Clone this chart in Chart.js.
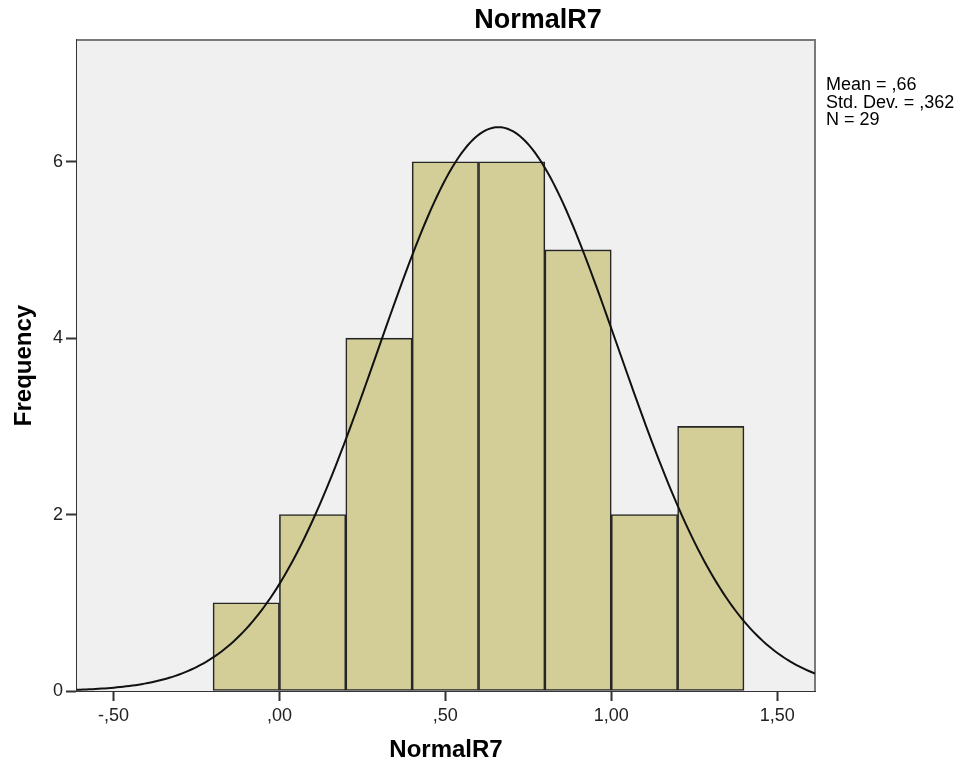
<!DOCTYPE html>
<html>
<head>
<meta charset="utf-8">
<title>NormalR7</title>
<script src="https://cdn.jsdelivr.net/npm/chart.js@4.4.1/dist/chart.umd.min.js"></script>
<style>
  html, body { margin: 0; padding: 0; background: #fff; }
  #wrap { width: 968px; height: 767px; }
</style>
</head>
<body>
<div id="wrap"><canvas id="hist" width="968" height="767"></canvas></div>
<script>
// histogram bins (width .2) and counts
const binCenters = [-0.1, 0.1, 0.3, 0.5, 0.7, 0.9, 1.1, 1.3];
const frequencies = [1, 2, 4, 6, 6, 5, 2, 3];
const binWidth = 0.2;

// summary stats shown next to the plot
const statMean = 0.66;
const statStdDev = 0.362;
const statN = 29;
const statLines = ['Mean = ,66', 'Std. Dev. = ,362', 'N = 29'];

// axes
const xRange = [-0.61, 1.614];
const xTickValues = [-0.5, 0, 0.5, 1, 1.5];
const xTickLabels = ['-,50', ',00', ',50', '1,00', '1,50'];
const yMax = 7.38;
const yTickValues = [0, 2, 4, 6];
const yTickLabels = ['0', '2', '4', '6'];

const FONT = '"Liberation Sans", Arial, sans-serif';

// normal curve scaled to counts: N * binWidth * pdf(x)
const curvePoints = [];
const steps = 240;
for (let i = 0; i <= steps; i++) {
  const x = xRange[0] + (xRange[1] - xRange[0]) * i / steps;
  const z = (x - statMean) / statStdDev;
  const y = statN * binWidth * Math.exp(-0.5 * z * z) / (statStdDev * Math.sqrt(2 * Math.PI));
  curvePoints.push({ x: x, y: y });
}

const plotFrame = {
  id: 'plotFrame',
  beforeDatasetsDraw(chart) {
    const { ctx, chartArea: a } = chart;
    ctx.save();
    ctx.fillStyle = '#f0f0f0';
    ctx.fillRect(a.left, a.top, a.right - a.left, a.bottom - a.top);
    ctx.strokeStyle = '#7a7a7a';
    ctx.lineWidth = 2;
    ctx.beginPath();
    ctx.moveTo(a.left, a.top);
    ctx.lineTo(a.right, a.top);
    ctx.lineTo(a.right, a.bottom);
    ctx.stroke();
    ctx.restore();
  },
  afterDraw(chart) {
    const { ctx } = chart;
    ctx.save();
    ctx.fillStyle = '#000';
    ctx.font = 'bold 27px ' + FONT;
    ctx.textAlign = 'center';
    ctx.textBaseline = 'alphabetic';
    ctx.fillText('NormalR7', 538, 28);
    ctx.font = '18px ' + FONT;
    ctx.textAlign = 'left';
    statLines.forEach((t, i) => ctx.fillText(t, 826, 90 + i * 17.5));
    ctx.restore();
  }
};

const ctx = document.getElementById('hist').getContext('2d');
new Chart(ctx, {
  data: {
    datasets: [
      {
        type: 'line',
        data: curvePoints,
        borderColor: '#111',
        borderWidth: 2,
        pointRadius: 0,
        tension: 0,
        fill: false,
        order: 0
      },
      {
        type: 'bar',
        data: binCenters.map((c, i) => ({ x: c, y: frequencies[i] })),
        backgroundColor: '#d3ce98',
        borderColor: '#262626',
        borderWidth: 1.6,
        borderSkipped: false,
        barPercentage: 1,
        categoryPercentage: 1,
        order: 1
      }
    ]
  },
  options: {
    responsive: false,
    animation: false,
    layout: { padding: { left: 0, top: 40, right: 153, bottom: 0 } },
    plugins: {
      legend: { display: false },
      tooltip: { enabled: false },
      title: { display: false }
    },
    scales: {
      x: {
        type: 'linear',
        min: xRange[0],
        max: xRange[1],
        offset: false,
        afterBuildTicks: s => { s.ticks = xTickValues.map(v => ({ value: v })); },
        afterFit: s => { s.height = 76; },
        ticks: {
          autoSkip: false,
          maxRotation: 0,
          padding: 4,
          color: '#222',
          font: { family: FONT, size: 18 },
          callback: v => xTickLabels[xTickValues.indexOf(v)]
        },
        grid: { offset: false, drawOnChartArea: false, drawTicks: true, tickLength: 10, tickColor: '#333', tickWidth: 2 },
        border: { display: true, color: '#333', width: 2 },
        title: {
          display: true,
          text: 'NormalR7',
          color: '#000',
          font: { family: FONT, size: 24, weight: 'bold' },
          padding: { top: 0, bottom: 2 }
        }
      },
      y: {
        type: 'linear',
        min: 0,
        max: yMax,
        afterBuildTicks: s => { s.ticks = yTickValues.map(v => ({ value: v })); },
        afterFit: s => { s.width = 77; },
        ticks: {
          padding: 3,
          color: '#222',
          font: { family: FONT, size: 18 },
          callback: v => yTickLabels[yTickValues.indexOf(v)]
        },
        grid: { drawOnChartArea: false, drawTicks: true, tickLength: 11, tickColor: '#333', tickWidth: 2 },
        border: { display: true, color: '#333', width: 2 },
        title: {
          display: true,
          text: 'Frequency',
          color: '#000',
          font: { family: FONT, size: 24, weight: 'bold' },
          padding: { top: 10, bottom: 0 }
        }
      }
    }
  },
  plugins: [plotFrame]
});
</script>
</body>
</html>
